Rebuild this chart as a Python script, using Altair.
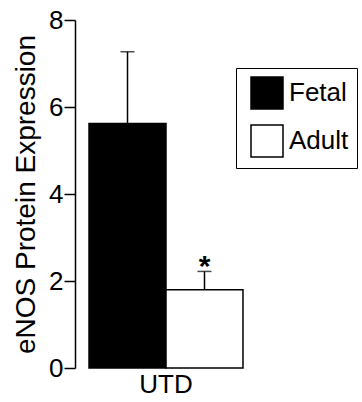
import altair as alt
import pandas as pd

groups = ["Fetal", "Adult"]
condition = ["UTD", "UTD"]
means = [5.62, 1.80]
upper = [7.27, 2.22]
sig = ["", "*"]
y_ticks = [0, 2, 4, 6, 8]

df = pd.DataFrame({"cond": condition, "group": groups, "mean": means,
                   "upper": upper, "sig": sig})

FONT = "Liberation Sans"

x_enc = alt.X("cond:N", scale=alt.Scale(paddingInner=0, paddingOuter=0),
              axis=alt.Axis(title=None, labelFontSize=26, labelAngle=0,
                            domain=False, ticks=False, labelPadding=3,
                            labelColor="black"))
xoff = alt.XOffset("group:N", sort=groups,
                   scale=alt.Scale(domain=groups, paddingInner=0, paddingOuter=0.182))

y_enc = alt.Y("mean:Q", scale=alt.Scale(domain=[0, 8], nice=False),
              axis=alt.Axis(title="eNOS Protein Expression", values=y_ticks,
                            grid=False, tickSize=11, labelPadding=1,
                            labelFontSize=26, titleFontSize=28,
                            titleFontWeight="normal", titlePadding=8,
                            domainColor="black", tickColor="black",
                            domainWidth=1.5, tickWidth=1.5,
                            labelColor="black", titleColor="black"))

bars = alt.Chart(df).mark_bar(stroke="black", strokeWidth=1.5).encode(
    x=x_enc,
    xOffset=xoff,
    y=y_enc,
    fill=alt.Fill("group:N", sort=groups,
                  scale=alt.Scale(domain=groups, range=["black", "white"]),
                  legend=alt.Legend(title=None, orient="none", legendX=161,
                                    legendY=48, symbolType="square",
                                    symbolSize=1024, symbolStrokeColor="black",
                                    symbolStrokeWidth=1.5, symbolOffset=6,
                                    labelFontSize=26,
                                    labelColor="black", labelOffset=5,
                                    rowPadding=10, padding=8,
                                    strokeColor="black")),
)

rules = alt.Chart(df).mark_rule(color="black", strokeWidth=1.5).encode(
    x=x_enc, xOffset=xoff, y="mean:Q", y2="upper:Q")

caps = alt.Chart(df).mark_tick(color="black", thickness=1.5, size=14).encode(
    x=x_enc, xOffset=xoff, y="upper:Q")

stars = alt.Chart(df).mark_text(fontSize=30, fontWeight="bold",
                                baseline="alphabetic", dy=5,
                                color="black").encode(
    x=x_enc, xOffset=xoff, y="upper:Q", text="sig:N")

chart = alt.layer(bars, rules, caps, stars).properties(
    width=182, height=348,
    padding={"left": 12, "top": 7, "right": 0, "bottom": 0},
).configure(font=FONT).configure_view(stroke=None)

chart.save("out.html", embed_options={"renderer": "svg", "actions": False})
